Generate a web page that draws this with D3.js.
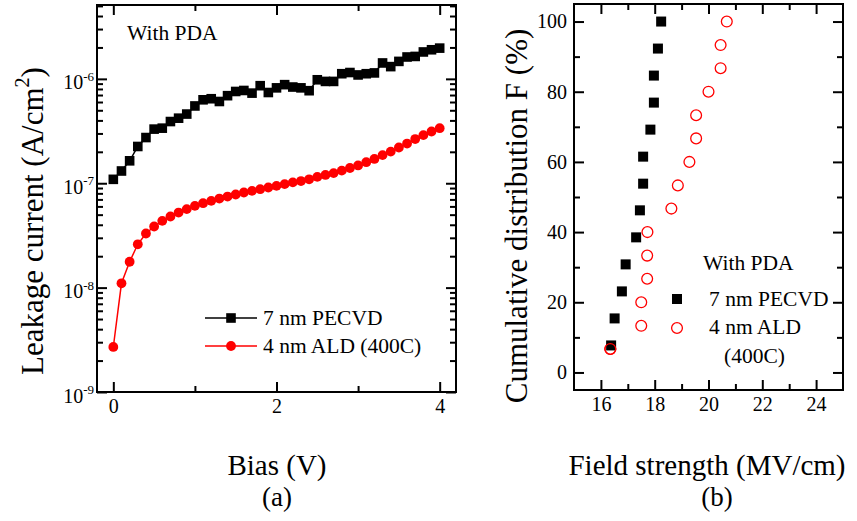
<!DOCTYPE html>
<html>
<head>
<meta charset="utf-8">
<script src="https://cdn.jsdelivr.net/npm/d3@7"></script>
<style>
body { margin: 0; background: #fff; }
svg text { font-family: "Liberation Serif", "Times New Roman", serif; fill: #000; }
</style>
</head>
<body>
<svg id="chart" width="857" height="521"></svg>
<script>
// ---- panel (a): leakage current vs bias ----
var bias = [0.0, 0.1, 0.2, 0.3, 0.4, 0.5, 0.6, 0.7, 0.8, 0.9,
            1.0, 1.1, 1.2, 1.3, 1.4, 1.5, 1.6, 1.7, 1.8, 1.9,
            2.0, 2.1, 2.2, 2.3, 2.4, 2.5, 2.6, 2.7, 2.8, 2.9,
            3.0, 3.1, 3.2, 3.3, 3.4, 3.5, 3.6, 3.7, 3.8, 3.9, 4.0];
var pecvdLeak = [1.09e-7, 1.31e-7, 1.64e-7, 2.25e-7, 2.74e-7, 3.3e-7, 3.37e-7, 3.9e-7, 4.2e-7, 4.6e-7,
                 5.5e-7, 6.3e-7, 6.45e-7, 6.07e-7, 6.9e-7, 7.57e-7, 7.74e-7, 7.3e-7, 8.6e-7, 7.4e-7,
                 8.2e-7, 8.8e-7, 8.35e-7, 8.2e-7, 7.7e-7, 9.8e-7, 9.45e-7, 9.45e-7, 1.12e-6, 1.15e-6,
                 1.09e-6, 1.12e-6, 1.14e-6, 1.42e-6, 1.31e-6, 1.47e-6, 1.62e-6, 1.64e-6, 1.81e-6, 1.9e-6, 1.97e-6];
var aldLeak = [2.7e-9, 1.1e-8, 1.77e-8, 2.6e-8, 3.3e-8, 3.85e-8, 4.36e-8, 4.8e-8, 5.24e-8, 5.65e-8,
               6.07e-8, 6.44e-8, 6.78e-8, 7.13e-8, 7.45e-8, 7.8e-8, 8.15e-8, 8.45e-8, 8.77e-8, 9.1e-8,
               9.44e-8, 9.8e-8, 1.02e-7, 1.05e-7, 1.09e-7, 1.15e-7, 1.2e-7, 1.25e-7, 1.32e-7, 1.4e-7,
               1.48e-7, 1.59e-7, 1.71e-7, 1.86e-7, 2.01e-7, 2.2e-7, 2.4e-7, 2.65e-7, 2.89e-7, 3.13e-7, 3.37e-7];
var biasTicks = [0, 2, 4];
var biasMinor = [1, 3];
var leakExp = [-9, -8, -7, -6];

// ---- panel (b): cumulative distribution vs field strength ----
var pecvdField = [16.38, 16.51, 16.78, 16.92, 17.31, 17.45, 17.57, 17.57, 17.84, 17.97, 17.97, 18.12, 18.24];
var pecvdF = [7.7, 15.4, 23.1, 30.8, 38.5, 46.2, 53.8, 61.5, 69.2, 76.9, 84.6, 92.3, 100];
var aldField = [16.35, 17.5, 17.5, 17.72, 17.72, 17.73, 18.62, 18.86, 19.29, 19.54, 19.54, 20.0, 20.45, 20.45, 20.68];
var aldF = [6.7, 13.3, 20.0, 26.7, 33.3, 40.0, 46.7, 53.3, 60.0, 66.7, 73.3, 80.0, 86.7, 93.3, 100];
var fieldTicks = [16, 18, 20, 22, 24];
var fieldMinor = [17, 19, 21, 23];
var cdfTicks = [0, 20, 40, 60, 80, 100];
var cdfMinor = [10, 30, 50, 70, 90];

var seriesNames = ["7 nm PECVD", "4 nm ALD (400C)"];
var RED = "#ff0000";
var SERIF = '"Liberation Serif", "Times New Roman", serif';

var svg = d3.select("#chart");

// frame with inward ticks on all four sides
function frame(x, y, major, minor, yMajor, yMinor, labelFmt) {
  var x0 = x.range()[0], x1 = x.range()[1], y0 = y.range()[1], y1 = y.range()[0];
  var g = svg.append("g");

  function ax(gen, tr, vals, size, showLabels) {
    var a = g.append("g").attr("transform", tr)
      .call(gen.tickValues(vals).tickSize(size).tickSizeOuter(0)
        .tickPadding(showLabels ? 7 : 3).tickFormat(d3.format("d")));
    a.attr("font-family", null).attr("font-size", null);
    a.select(".domain").remove();
    a.selectAll("line").attr("stroke", "#000").attr("stroke-width", 2);
    a.selectAll("text").style("font-family", SERIF).style("font-size", "20px");
    if (!showLabels) a.selectAll("text").remove();
    return a;
  }
  ax(d3.axisBottom(x), "translate(0," + y1 + ")", major, -10, true);
  ax(d3.axisBottom(x), "translate(0," + y1 + ")", minor, -6, false);
  ax(d3.axisTop(x), "translate(0," + y0 + ")", major, -10, false);
  ax(d3.axisTop(x), "translate(0," + y0 + ")", minor, -6, false);
  var yl = ax(d3.axisLeft(y), "translate(" + x0 + ",0)", yMajor, -10, true);
  ax(d3.axisLeft(y), "translate(" + x0 + ",0)", yMinor, -6, false);
  ax(d3.axisRight(y), "translate(" + x1 + ",0)", yMajor, -10, false);
  ax(d3.axisRight(y), "translate(" + x1 + ",0)", yMinor, -6, false);
  if (labelFmt) labelFmt(yl);

  g.append("rect")
    .attr("x", x0).attr("y", y0)
    .attr("width", x1 - x0).attr("height", y1 - y0)
    .attr("fill", "none").attr("stroke", "#000").attr("stroke-width", 2);
}

// ---------- panel (a) ----------
var xA = d3.scaleLinear().domain([-0.2, 4.2]).range([97, 456]);
var yA = d3.scaleLog().domain([1e-9, 5.1e-6]).range([392, 5]);

var leakMajor = leakExp.map(function(e) { return Math.pow(10, e); });
var leakMinor = [];
leakExp.forEach(function(e) {
  for (var m = 2; m <= 9; m++) {
    var v = m * Math.pow(10, e);
    if (v <= 5.1e-6) leakMinor.push(v);
  }
});

frame(xA, yA, biasTicks, biasMinor, leakMajor, leakMinor, function(yl) {
  yl.selectAll("text").each(function(d) {
    var t = d3.select(this);
    var e = Math.round(Math.log10(d));
    t.text("").attr("dy", "0.5em").attr("x", -3);
    t.append("tspan").text("10");
    t.append("tspan").text(e).style("font-size", "13px").attr("dy", "-0.65em");
  });
});

var pA = svg.append("g");
var lineA = d3.line().x(function(d) { return xA(d[0]); }).y(function(d) { return yA(d[1]); });
var pecvdPts = bias.map(function(b, i) { return [b, pecvdLeak[i]]; });
var aldPts = bias.map(function(b, i) { return [b, aldLeak[i]]; });

pA.append("path").datum(pecvdPts).attr("d", lineA)
  .attr("fill", "none").attr("stroke", "#000").attr("stroke-width", 1.5);
pA.append("path").datum(aldPts).attr("d", lineA)
  .attr("fill", "none").attr("stroke", RED).attr("stroke-width", 1.5);

pA.selectAll("rect.sq").data(pecvdPts).enter().append("rect")
  .attr("class", "sq")
  .attr("x", function(d) { return xA(d[0]) - 4.8; })
  .attr("y", function(d) { return yA(d[1]) - 4.8; })
  .attr("width", 9.6).attr("height", 9.6).attr("fill", "#000");
pA.selectAll("circle.ci").data(aldPts).enter().append("circle")
  .attr("class", "ci")
  .attr("cx", function(d) { return xA(d[0]); })
  .attr("cy", function(d) { return yA(d[1]); })
  .attr("r", 4.9).attr("fill", RED);

svg.append("text").attr("x", 127).attr("y", 40).style("font-size", "21.5px").text("With PDA");

// legend (a)
var legA = svg.append("g");
[0, 1].forEach(function(i) {
  var ly = 318 + i * 28;
  legA.append("line").attr("x1", 205).attr("x2", 257).attr("y1", ly).attr("y2", ly)
    .attr("stroke", i ? RED : "#000").attr("stroke-width", 1.5);
  if (i) legA.append("circle").attr("cx", 231).attr("cy", ly).attr("r", 4.9).attr("fill", RED);
  else legA.append("rect").attr("x", 226.2).attr("y", ly - 4.8).attr("width", 9.6).attr("height", 9.6).attr("fill", "#000");
  legA.append("text").attr("x", 263).attr("y", ly + 7).style("font-size", "21.5px").text(seriesNames[i]);
});

svg.append("text")
  .attr("transform", "translate(43,221) rotate(-90)")
  .attr("text-anchor", "middle").style("font-size", "31px")
  .text("Leakage current (A/cm")
  .call(function(t) {
    t.append("tspan").text("2").style("font-size", "20px").attr("dy", "-0.7em");
    t.append("tspan").text(")").attr("dy", "0.45em");
  });
svg.append("text").attr("x", 277).attr("y", 475).attr("text-anchor", "middle")
  .style("font-size", "29px").text("Bias (V)");
svg.append("text").attr("x", 277).attr("y", 506).attr("text-anchor", "middle")
  .style("font-size", "27px").text("(a)");

// ---------- panel (b) ----------
var xB = d3.scaleLinear().domain([15, 25]).range([574, 843]);
var yB = d3.scaleLinear().domain([-5, 105]).range([390, 4]);

frame(xB, yB, fieldTicks, fieldMinor, cdfTicks, cdfMinor, null);

var pB = svg.append("g");
pB.selectAll("circle.ald").data(aldField).enter().append("circle")
  .attr("class", "ald")
  .attr("cx", function(d) { return xB(d); })
  .attr("cy", function(d, i) { return yB(aldF[i]); })
  .attr("r", 5.4).attr("fill", "none").attr("stroke", RED).attr("stroke-width", 1.3);
pB.selectAll("rect.pec").data(pecvdField).enter().append("rect")
  .attr("class", "pec")
  .attr("x", function(d) { return xB(d) - 5; })
  .attr("y", function(d, i) { return yB(pecvdF[i]) - 5; })
  .attr("width", 10).attr("height", 10).attr("fill", "#000");
// the lowest circle sits over the lowest square in the reference
pB.append("circle").attr("cx", xB(aldField[0])).attr("cy", yB(aldF[0]))
  .attr("r", 5.4).attr("fill", "none").attr("stroke", RED).attr("stroke-width", 1.3);

svg.append("text").attr("x", 703).attr("y", 270).style("font-size", "21.5px").text("With PDA");
svg.append("rect").attr("x", 672).attr("y", 294).attr("width", 10).attr("height", 10).attr("fill", "#000");
svg.append("text").attr("x", 709).attr("y", 306).style("font-size", "21.5px").text(seriesNames[0]);
svg.append("circle").attr("cx", 677).attr("cy", 328).attr("r", 5.4)
  .attr("fill", "none").attr("stroke", RED).attr("stroke-width", 1.3);
svg.append("text").attr("x", 709).attr("y", 334).style("font-size", "21.5px").text("4 nm ALD");
svg.append("text").attr("x", 724).attr("y", 363).style("font-size", "21.5px").text("(400C)");

svg.append("text")
  .attr("transform", "translate(527,216) rotate(-90)")
  .attr("text-anchor", "middle").style("font-size", "31px")
  .text("Cumulative distribution F (%)");
svg.append("text").attr("x", 707).attr("y", 475).attr("text-anchor", "middle")
  .style("font-size", "29px").text("Field strength (MV/cm)");
svg.append("text").attr("x", 717).attr("y", 506).attr("text-anchor", "middle")
  .style("font-size", "27px").text("(b)");
</script>
</body>
</html>
